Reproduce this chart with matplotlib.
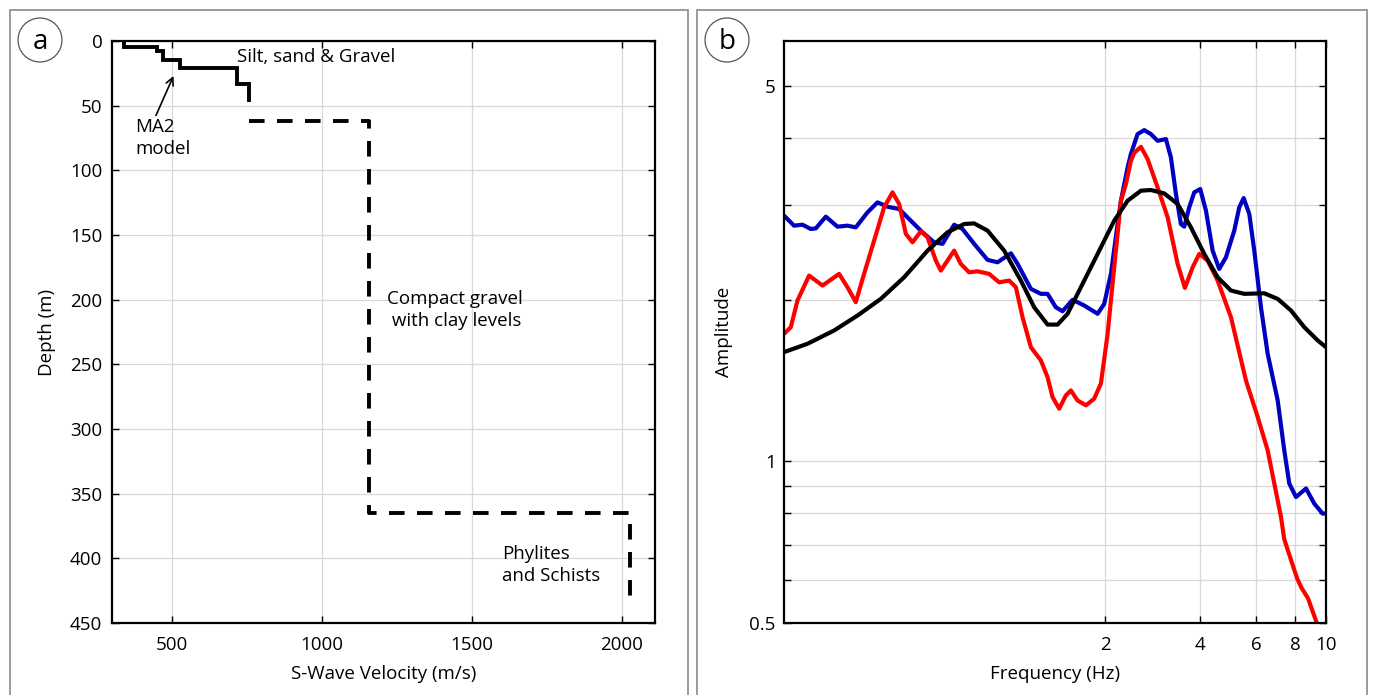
import matplotlib
matplotlib.use('Agg')
import matplotlib.pyplot as plt
from matplotlib.patches import Circle, Rectangle
from matplotlib.ticker import NullFormatter, FixedLocator

plt.rcParams['font.family'] = ['Open Sans', 'DejaVu Sans']

# --- panel a: shear-wave velocity profile (MA2 model) ---
shallow_vs = [340, 450, 470, 525, 715, 758]
shallow_bounds = [0, 5, 8, 14.5, 21, 33, 46]
deep_start_vs = 758
deep_vs = [1158, 2025]
deep_bounds = [62, 365, 432]

# --- panel b: spectral amplitude curves ---
blue_f = [0.1931, 0.2076, 0.2208, 0.2346, 0.2433, 0.2617, 0.2849, 0.3064, 0.3256, 0.3545,
          0.3814, 0.4102, 0.4465, 0.4860, 0.5293, 0.5760, 0.6124, 0.6664, 0.7083, 0.7709,
          0.8501, 0.9143, 1.0074, 1.0578, 1.1655, 1.2534, 1.3161, 1.3980, 1.4680, 1.5790,
          1.7187, 1.8950, 1.9883, 2.0875, 2.1919, 2.2456, 2.3580, 2.4151, 2.5355, 2.6607,
          2.7935, 2.9335, 3.1166, 3.2320, 3.3518, 3.4760, 3.5611, 3.6930, 3.8298, 4.0012,
          4.1713, 4.3798, 4.5949, 4.8251, 5.1264, 5.3162, 5.4905, 5.7189, 5.9310, 6.2274,
          6.5387, 7.0340, 7.3790, 7.6544, 8.0371, 8.6456, 9.1833, 9.7633, 10.0]
blue_amp = [2.866, 2.746, 2.757, 2.707, 2.714, 2.854, 2.734, 2.746, 2.726, 2.907,
            3.034, 2.978, 2.949, 2.805, 2.669, 2.557, 2.540, 2.757, 2.707, 2.540,
            2.371, 2.347, 2.439, 2.331, 2.094, 2.050, 2.050, 1.935, 1.903, 1.998,
            1.950, 1.882, 1.964, 2.233, 2.765, 3.056, 3.524, 3.736, 4.066, 4.136,
            4.066, 3.951, 3.980, 3.678, 3.145, 2.765, 2.734, 2.970, 3.167, 3.213,
            2.928, 2.467, 2.281, 2.398, 2.688, 2.970, 3.091, 2.887, 2.467, 1.935,
            1.586, 1.298, 1.048, 0.909, 0.858, 0.890, 0.834, 0.799, 0.800]

red_f = [0.1931, 0.2028, 0.2129, 0.2317, 0.2555, 0.2883, 0.3064, 0.3256, 0.3458, 0.3721,
         0.4001, 0.4254, 0.4465, 0.4688, 0.4921, 0.5229, 0.5491, 0.5832, 0.6048, 0.6349,
         0.6664, 0.6995, 0.7433, 0.7901, 0.8601, 0.9249, 0.9949, 1.0447, 1.0970, 1.1655,
         1.2534, 1.3161, 1.3646, 1.4322, 1.5036, 1.5596, 1.6374, 1.7402, 1.8487, 1.9409,
         2.0381, 2.1380, 2.2456, 2.3289, 2.4151, 2.4741, 2.5975, 2.7273, 2.9335, 3.1558,
         3.3937, 3.5792, 3.7860, 3.9727, 4.2225, 4.5422, 5.0050, 5.5824, 6.0805, 6.5387,
         7.2044, 7.3790, 7.7377, 8.1138, 8.3720, 8.7700, 9.3518, 9.50]
red_amp = [1.727, 1.777, 1.992, 2.217, 2.124, 2.233, 2.109, 1.978, 2.233, 2.576,
           2.970, 3.167, 3.013, 2.651, 2.557, 2.680, 2.612, 2.364, 2.265, 2.364,
           2.467, 2.331, 2.248, 2.258, 2.233, 2.154, 2.170, 2.109, 1.854, 1.631,
           1.541, 1.434, 1.317, 1.253, 1.326, 1.355, 1.298, 1.271, 1.308, 1.396,
           1.727, 2.297, 3.056, 3.282, 3.627, 3.752, 3.850, 3.653, 3.235, 2.846,
           2.331, 2.103, 2.297, 2.433, 2.364, 2.170, 1.854, 1.414, 1.209, 1.048,
           0.788, 0.716, 0.657, 0.604, 0.581, 0.556, 0.500, 0.485]

black_f = [0.1931, 0.2290, 0.2780, 0.3296, 0.3906, 0.4630, 0.5491, 0.6349, 0.7167, 0.7709,
           0.8501, 0.9594, 1.0834, 1.1938, 1.3161, 1.4156, 1.5224, 1.7187, 1.8950, 2.1380,
           2.3580, 2.5975, 2.7935, 3.0781, 3.3937, 3.7388, 4.1200, 4.5422, 5.0050, 5.5146,
           6.3780, 7.0340, 7.7484, 8.5386, 9.4123, 10.0]
black_amp = [1.597, 1.655, 1.752, 1.868, 2.006, 2.201, 2.467, 2.669, 2.765, 2.773,
             2.688, 2.467, 2.170, 1.935, 1.797, 1.797, 1.882, 2.170, 2.433, 2.805,
             3.056, 3.190, 3.199, 3.153, 3.013, 2.726, 2.433, 2.201, 2.079, 2.050,
             2.055, 2.006, 1.909, 1.777, 1.679, 1.631]

W, H = 13.76, 6.95
fig = plt.figure(figsize=(W, H), dpi=100)
grid_kw = dict(color='#d8d8d8', linewidth=0.9)

# panel frames and letters
for x0, x1, letter, cx in [(10, 688, 'a', 40), (697, 1367, 'b', 727)]:
    fig.patches.append(Rectangle((x0 / 1376, -0.01), (x1 - x0) / 1376, 1 - 10 / 695 + 0.01,
                                 transform=fig.transFigure, fill=False,
                                 edgecolor='#8a8a8a', linewidth=1.2))
    fig.patches.append(Circle((cx / 100, H - 0.40), 0.22, transform=fig.dpi_scale_trans,
                              fill=False, edgecolor='#555555', linewidth=0.9))
    fig.text(cx / 1376, 1 - 42 / 695, letter, ha='center', va='center', fontsize=20)

# ---------- panel a ----------
ax1 = fig.add_axes([112 / 1376, 1 - 623 / 695, 543 / 1376, 582 / 695])

sx, sy = [], []
for i, v in enumerate(shallow_vs):
    sx += [v, v]
    sy += [shallow_bounds[i], shallow_bounds[i + 1]]
ax1.plot(sx, sy, color='black', linewidth=2.8, solid_joinstyle='miter')

dx, dy = [deep_start_vs], [deep_bounds[0]]
for i, v in enumerate(deep_vs):
    dx += [v, v]
    dy += [deep_bounds[i], deep_bounds[i + 1]]
ax1.plot(dx, dy, color='black', linewidth=2.8, dashes=(4, 3.2), dash_capstyle='butt')

ax1.set_xlim(300, 2110)
ax1.set_ylim(450, 0)
ax1.set_xticks([500, 1000, 1500, 2000])
ax1.set_yticks(range(0, 451, 50))
ax1.grid(True, **grid_kw)
ax1.set_axisbelow(True)
ax1.tick_params(direction='in', top=True, right=True, length=5, width=1, labelsize=13.5)
ax1.tick_params(axis='y', pad=7)
ax1.tick_params(axis='x', pad=9)
for s in ax1.spines.values():
    s.set_linewidth(1.6)
ax1.set_xlabel('S-Wave Velocity (m/s)', fontsize=13.5, labelpad=8)
ax1.set_ylabel('Depth (m)', fontsize=13.5, labelpad=10)

ax1.text(717, 12, 'Silt, sand & Gravel', fontsize=13.5, va='center', ha='left')
ax1.annotate('MA2\nmodel', xy=(505, 27), xytext=(378, 75), fontsize=13.5,
             ha='left', va='center', linespacing=1.25,
             arrowprops=dict(arrowstyle='->', color='black', lw=1.2,
                             shrinkA=0, shrinkB=0, relpos=(0.35, 1.0)))
ax1.text(1215, 208, 'Compact gravel\n with clay levels', fontsize=13.5,
         va='center', ha='left', linespacing=1.3)
ax1.text(1600, 405, 'Phylites\nand Schists', fontsize=13.5,
         va='center', ha='left', linespacing=1.3)

# ---------- panel b ----------
ax2 = fig.add_axes([784 / 1376, 1 - 623 / 695, 542 / 1376, 582 / 695])
curve_kw = dict(linewidth=3.0, solid_joinstyle='round', solid_capstyle='round')
ax2.plot(blue_f, blue_amp, color='#0000c0', **curve_kw)
ax2.plot(red_f, red_amp, color='#ff0000', **curve_kw)
ax2.plot(black_f, black_amp, color='black', **curve_kw)

ax2.set_xscale('log')
ax2.set_yscale('log')
ax2.set_xlim(0.193, 10)
ax2.set_ylim(0.5, 6.06)
ax2.xaxis.set_major_locator(FixedLocator([2, 4, 6, 8, 10]))
ax2.xaxis.set_minor_locator(FixedLocator([]))
ax2.set_xticklabels(['2', '4', '6', '8', '10'])
ax2.yaxis.set_major_locator(FixedLocator([0.5, 1, 5]))
ax2.yaxis.set_minor_locator(FixedLocator([0.6, 0.7, 0.8, 0.9, 2, 3, 4]))
ax2.yaxis.set_minor_formatter(NullFormatter())
ax2.set_yticklabels(['0.5', '1', '5'])
ax2.grid(True, which='both', **grid_kw)
ax2.set_axisbelow(True)
ax2.tick_params(which='both', direction='in', top=True, right=True, labelsize=13.5)
ax2.tick_params(which='major', length=5, width=1)
ax2.tick_params(which='minor', length=5, width=1)
ax2.tick_params(axis='y', which='both', pad=6)
ax2.tick_params(axis='x', which='both', pad=9)
for s in ax2.spines.values():
    s.set_linewidth(1.6)
ax2.set_xlabel('Frequency (Hz)', fontsize=13.5, labelpad=8)
ax2.set_ylabel('Amplitude', fontsize=13.5, labelpad=12)

plt.savefig('out.png', dpi=100)
